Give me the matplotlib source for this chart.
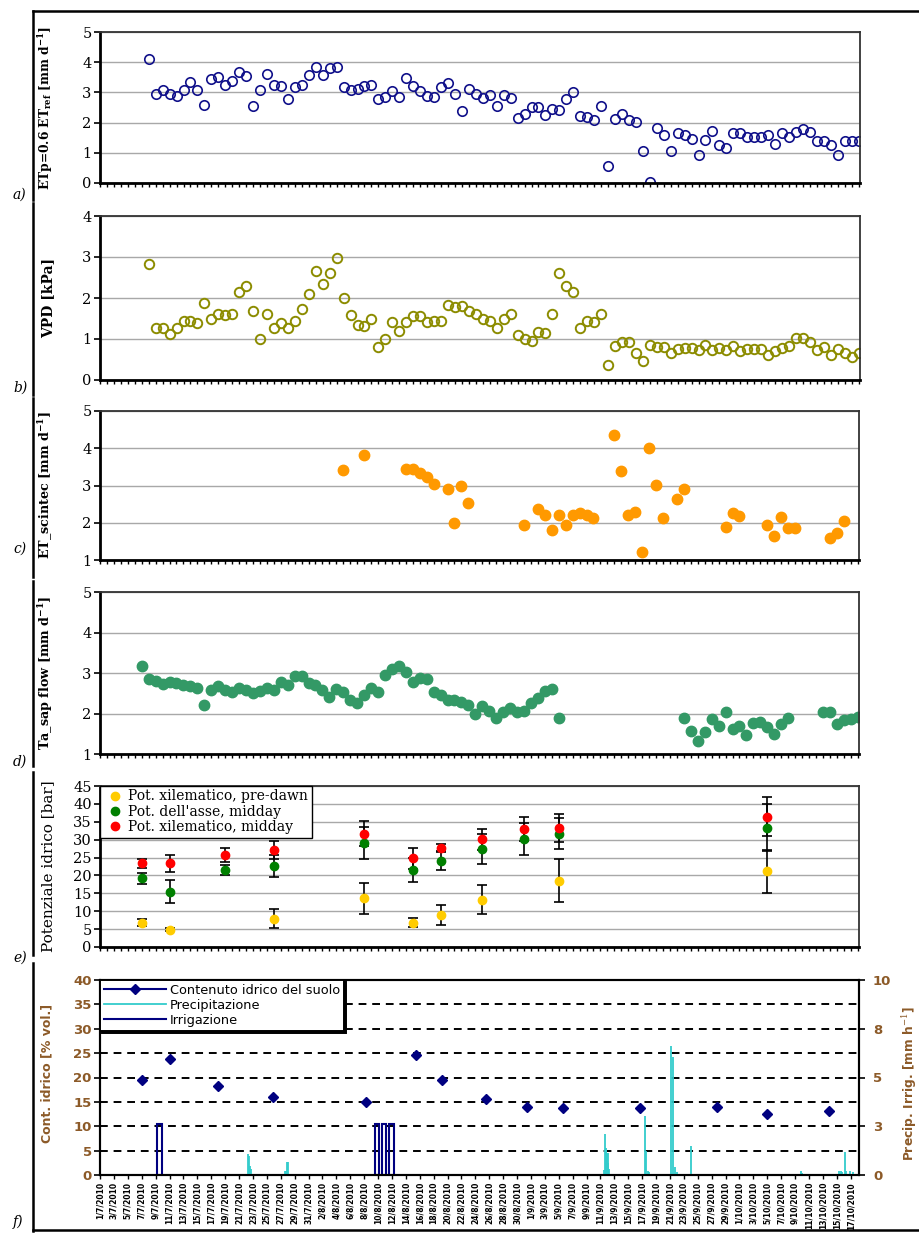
import datetime as dt
import numpy as np
import matplotlib.pyplot as plt
from matplotlib.lines import Line2D

W, H = 919, 1234

# ---- a) ETp and b) VPD: one value per day, days 7..109
first_day = 7
etp = [4.10, 2.95, 3.09, 2.95, 2.87, 3.09, 3.34, 3.09, 2.59, 3.44,
       3.51, 3.24, 3.39, 3.66, 3.53, 2.54, 3.09, 3.62, 3.24, 3.21,
       2.78, 3.17, 3.26, 3.58, 3.84, 3.58, 3.80, 3.83, 3.17, 3.09,
       3.12, 3.20, 3.26, 2.78, 2.86, 3.06, 2.86, 3.48, 3.21, 3.04,
       2.89, 2.86, 3.17, 3.32, 2.95,
       2.37, 3.12, 2.95, 2.81, 2.90, 2.54, 2.91, 2.81, 2.15, 2.28,
       2.51, 2.51, 2.26, 2.46, 2.42, 2.78, 3.00, 2.23, 2.19, 2.10,
       2.54, 0.55, 2.12, 2.28, 2.10, 2.01, 1.07, 0.02, 1.82, 1.60,
       1.07, 1.66, 1.60, 1.47, 0.94, 1.44, 1.73, 1.25, 1.16, 1.66,
       1.66, 1.51, 1.52, 1.52, 1.60, 1.29, 1.66, 1.52, 1.69, 1.80,
       1.69, 1.38, 1.38, 1.25, 0.94, 1.38, 1.38, 1.38]
vpd = [2.84, 1.26, 1.28, 1.11, 1.26, 1.44, 1.44, 1.38, 1.89, 1.48,
       1.62, 1.58, 1.61, 2.15, 2.29, 1.69, 1.01, 1.62, 1.28, 1.40,
       1.28, 1.44, 1.72, 2.09, 2.65, 2.34, 2.62, 2.98, 1.99, 1.58,
       1.35, 1.31, 1.48, 0.80, 0.99, 1.42, 1.19, 1.42, 1.56, 1.56,
       1.42, 1.44, 1.44, 1.83, 1.79, 1.81,
       1.68, 1.62, 1.48, 1.44, 1.28, 1.48, 1.60, 1.10, 1.01, 0.96,
       1.16, 1.14, 1.60, 2.61, 2.29, 2.15, 1.26, 1.44, 1.42, 1.62,
       0.37, 0.83, 0.93, 0.93, 0.67, 0.47, 0.85, 0.80, 0.80, 0.67,
       0.75, 0.77, 0.77, 0.73, 0.85, 0.73, 0.77, 0.73, 0.84, 0.71,
       0.75, 0.75, 0.75, 0.62, 0.71, 0.77, 0.84, 1.03, 1.03, 0.93,
       0.73, 0.80, 0.61, 0.75, 0.67, 0.55, 0.67]
days_ab = np.arange(first_day, first_day + len(etp))

# ---- c) ET scintillometer
et_days = [35, 38, 44, 45, 46, 47, 48, 50, 51, 52, 53, 61,
           63, 64, 65, 66, 67, 68, 69, 70, 71,
           74, 75, 76, 77, 78, 79, 80, 81, 83, 84,
           90, 91, 92, 96, 97, 98, 99, 100, 105, 106, 107]
et_scintec = [3.41, 3.81, 3.44, 3.44, 3.34, 3.23, 3.05, 2.90, 1.98, 2.98, 2.54, 1.94,
              2.37, 2.22, 1.80, 2.22, 1.94, 2.22, 2.27, 2.22, 2.12,
              4.35, 3.38, 2.22, 2.29, 1.22, 4.02, 3.01, 2.12, 2.65, 2.90,
              1.89, 2.27, 2.19, 1.94, 1.65, 2.16, 1.87, 1.87, 1.58, 1.73, 2.04]

# ---- d) sap flow
sap_days = (list(range(6, 52)) + list(range(52, 67))
            + list(range(84, 100)) + list(range(104, 110)))
sap_flow = [3.17, 2.85, 2.81, 2.73, 2.79, 2.75, 2.71, 2.69, 2.64, 2.21,
            2.59, 2.67, 2.59, 2.52, 2.63, 2.59, 2.50, 2.55, 2.63, 2.57,
            2.79, 2.71, 2.92, 2.92, 2.75, 2.71, 2.57, 2.40, 2.60, 2.52,
            2.34, 2.26, 2.45, 2.63, 2.52, 2.96, 3.11, 3.18, 3.02, 2.77,
            2.88, 2.85, 2.52, 2.46, 2.34, 2.34,
            2.28, 2.20, 1.99, 2.18, 2.06, 1.89, 2.04, 2.14, 2.04, 2.06,
            2.27, 2.39, 2.56, 2.61, 1.89,
            1.89, 1.56, 1.33, 1.54, 1.87, 1.70, 2.04, 1.62, 1.70, 1.47,
            1.76, 1.80, 1.66, 1.50, 1.75, 1.89,
            2.04, 2.04, 1.75, 1.83, 1.87, 1.91]

# ---- e) water potential
pot_days = [6, 10, 18, 25, 38, 45, 49, 55, 61, 66, 96]
predawn = [6.8, 4.8, np.nan, 7.9, 13.6, 6.8, 9.0, 13.2, np.nan, 18.5, 21.2]
predawn_err = [0.9, 0.4, np.nan, 2.6, 4.4, 1.2, 2.8, 4.1, np.nan, 6.0, 6.0]
stem = [19.2, 15.5, 21.5, 22.7, 29.1, 21.5, 24.1, 27.3, 30.1, 31.7, 33.3]
stem_err = [1.5, 3.2, 1.5, 3.0, 4.4, 3.3, 2.6, 4.2, 4.5, 4.3, 6.6]
midday = [23.4, 23.4, 25.7, 27.1, 31.7, 24.8, 27.6, 30.1, 32.9, 33.3, 36.4]
midday_err = [1.2, 2.3, 1.9, 2.5, 3.6, 3.0, 1.1, 3.0, 3.3, 4.0, 5.5]

# ---- f) soil water, rain, irrigation
soil_days = [6.1, 10.1, 17.0, 24.9, 38.3, 45.5, 49.2, 55.5, 61.5, 66.6, 77.7, 88.8, 95.9, 104.9]
soil_water = [19.4, 23.7, 18.3, 15.9, 15.0, 24.6, 19.5, 15.6, 14.0, 13.8, 13.8, 14.0, 12.5, 13.1]
rain_day = [21.3, 21.45, 21.6, 21.75, 26.6, 26.75, 26.9, 27.0,
            72.55, 72.65, 72.75, 72.85, 72.95, 73.05, 73.15, 73.25,
            78.4, 78.55, 78.8, 79.0, 82.2, 82.5, 82.7, 82.95, 85.1,
            100.9, 101.0, 106.3, 106.6, 106.8, 107.2, 107.4, 107.9, 108.3]
rain_mm = [1.06, 0.95, 0.46, 0.3, 0.2, 0.2, 0.65, 0.65,
           0.25, 2.1, 1.4, 1.3, 1.15, 0.6, 1.15, 0.3,
           3.03, 1.25, 0.2, 0.15, 6.6, 6.03, 0.43, 0.15, 1.49,
           0.2, 0.1, 0.2, 0.2, 0.15, 1.2, 0.2, 0.2, 0.15]
irr_start = [8.15, 39.5, 40.6, 41.6]
irr_len = [0.72, 0.7, 0.5, 0.7]
irr_rate = [2.6, 2.6, 2.6, 2.6]

start = dt.date(2010, 7, 1)
date_ticks = np.arange(0, 109, 2)
date_labels = [f"{d.day}/{d.month}/{d.year}" for d in
               (start + dt.timedelta(days=int(k)) for k in date_ticks)]

plt.rcParams['font.family'] = 'DejaVu Serif'
plt.rcParams['mathtext.fontset'] = 'dejavuserif'

fig = plt.figure(figsize=(W / 100, H / 100), dpi=100)


def box(l, t, r, b):
    return fig.add_axes([l / W, 1 - b / H, (r - l) / W, (b - t) / H])


def style(ax, lo, hi, step, label, bold=True, size=9.2):
    ax.set_xlim(0, 109.2)
    ax.set_ylim(lo, hi)
    ax.set_yticks(np.arange(lo, hi + step / 2, step))
    ax.set_xticks(np.arange(0, 110, 1))
    ax.tick_params(axis='x', length=3, width=1, labelbottom=False)
    ax.tick_params(axis='y', length=4, width=1.2, labelsize=10.5, pad=2)
    ax.yaxis.grid(True, color='#a8a8a8', lw=1)
    ax.set_axisbelow(True)
    for s in ['left', 'bottom']:
        ax.spines[s].set_linewidth(2)
    for s in ['top', 'right']:
        ax.spines[s].set_linewidth(1.3)
        ax.spines[s].set_color('#333333')
    ax.set_ylabel(label, fontsize=size, fontweight='bold' if bold else 'normal')
    ax.yaxis.set_label_coords(-45 / 760, 0.5)


ax_a = box(100, 32, 860, 183)
ax_a.plot(days_ab, etp, 'o', ms=6.8, mfc='none', mec='#10108a', mew=1.2)
style(ax_a, 0, 5, 1, r'ETp=0.6 ET$_{\mathbf{ref}}$ [mm d$^{\mathbf{-1}}$]', size=8.8)

ax_b = box(100, 216, 860, 380)
ax_b.plot(days_ab, vpd, 'o', ms=6.8, mfc='none', mec='#8c8c00', mew=1.4)
style(ax_b, 0, 4, 1, 'VPD [kPa]', size=10)

ax_c = box(100, 411, 859, 560)
ax_c.plot(et_days, et_scintec, 'o', ms=7.5, color='#ff9900')
style(ax_c, 1, 5, 1, r'ET_scintec [mm d$^{\mathbf{-1}}$]')

ax_d = box(100, 592, 859, 754)
ax_d.plot(sap_days, sap_flow, 'o', ms=7.5, color='#339966')
style(ax_d, 1, 5, 1, r'Ta_sap flow [mm d$^{\mathbf{-1}}$]')

ax_e = box(100, 786, 859, 947)
series_e = [(predawn, predawn_err, '#ffcc00', 'Pot. xilematico, pre-dawn'),
            (stem, stem_err, '#008000', "Pot. dell'asse, midday"),
            (midday, midday_err, '#ff0000', 'Pot. xilematico, midday')]
for vals, err, col, lab in series_e:
    ax_e.errorbar(pot_days, vals, yerr=err, fmt='none', ecolor='black',
                  elinewidth=1.2, capsize=3.5, capthick=1.2, zorder=2)
    ax_e.plot(pot_days, vals, 'o', ms=6, color=col, label=lab, zorder=3)
style(ax_e, 0, 45, 5, 'Potenziale idrico [bar]', bold=False, size=11)
ax_e.legend(loc='upper left', borderaxespad=0, fancybox=False, framealpha=1,
            edgecolor='black', fontsize=10, handletextpad=0.2, borderpad=0.25,
            labelspacing=0.1, handlelength=1.6)

# ---- panel f
brown = '#8c5a28'
ax_f = box(100, 980, 859, 1175)
ax_f.set_xlim(0, 109.2)
ax_f.set_ylim(0, 40)
ax_f.set_yticks(np.arange(0, 41, 5))
ax_f.yaxis.grid(True, color='black', lw=1.4, linestyle=(0, (4, 3)))
ax_f.set_axisbelow(True)
ax_f.plot(soil_days, soil_water, 'D', ms=5, color='#000080', zorder=4)
ax_f.set_xticks(date_ticks)
ax_f.set_xticklabels(date_labels, rotation=90, fontsize=5.5,
                     family='DejaVu Sans', fontweight='bold')
ax_f.tick_params(axis='x', length=3, width=1, pad=2)
ax_f.tick_params(axis='y', length=4, width=1.2, labelsize=9.5, labelcolor=brown, pad=2)
for t in ax_f.get_yticklabels():
    t.set_family('DejaVu Sans')
    t.set_fontweight('bold')
ax_f.set_ylabel('Cont. idrico [% vol.]', family='DejaVu Sans', fontweight='bold',
                fontsize=9, color=brown)
ax_f.yaxis.set_label_coords(-47 / 759, 0.52)

ax_g = ax_f.twinx()
ax_g.set_ylim(0, 10)
ax_g.set_yticks([0, 2.5, 5, 7.5, 10])
ax_g.set_yticklabels(['0', '3', '5', '8', '10'])
ax_g.vlines(rain_day, 0, rain_mm, color='#33cccc', lw=1.3)
ax_g.bar(irr_start, irr_rate, width=irr_len, align='edge', fill=False,
         edgecolor='#000080', lw=1.5)
ax_g.tick_params(axis='y', length=4, width=1.2, labelsize=9.5, labelcolor=brown, pad=6)
for t in ax_g.get_yticklabels():
    t.set_family('DejaVu Sans')
    t.set_fontweight('bold')
ax_g.set_ylabel(r'Precip. Irrig. [mm h$^{-1}$]', family='DejaVu Sans', fontweight='bold',
                fontsize=8.8, color=brown)
ax_g.yaxis.set_label_coords(1 + 41 / 759, 0.47)
for a in (ax_f, ax_g):
    for s in a.spines.values():
        s.set_linewidth(1.5)
handles = [Line2D([], [], color='#000080', marker='D', ms=5, lw=1.5),
           Line2D([], [], color='#33cccc', lw=1.3),
           Line2D([], [], color='#000080', lw=1.5)]
leg = ax_g.legend(handles, ['Contenuto idrico del suolo', 'Precipitazione', 'Irrigazione'],
                  loc='upper left', borderaxespad=0, fancybox=False, framealpha=1,
                  edgecolor='black', shadow={'color': 'black', 'alpha': 1, 'ox': 1.5, 'oy': -1.5},
                  prop={'family': 'DejaVu Sans', 'size': 9.3}, handlelength=4.8,
                  handletextpad=0.3, borderpad=0.3, labelspacing=0.15)
leg.get_frame().set_linewidth(1.4)

# panel letters and frame lines
for lab, y in [('a)', 195), ('b)', 388), ('c)', 549), ('d)', 762), ('e)', 958), ('f)', 1222)]:
    fig.text(13 / W, 1 - y / H, lab, style='italic', fontsize=10, va='center')
segs = [(11, 200), (203, 395), (398, 577), (581, 766), (772, 955), (963, 1231)]
for y0, y1 in segs:
    fig.add_artist(Line2D([33 / W, 33 / W], [1 - y0 / H, 1 - y1 / H], color='black', lw=1.8))
fig.add_artist(Line2D([33 / W, 1], [1 - 11 / H, 1 - 11 / H], color='black', lw=1.8))
fig.add_artist(Line2D([33 / W, 1], [1 - 1230 / H, 1 - 1230 / H], color='black', lw=1.8))

fig.savefig('out.png', dpi=100)
